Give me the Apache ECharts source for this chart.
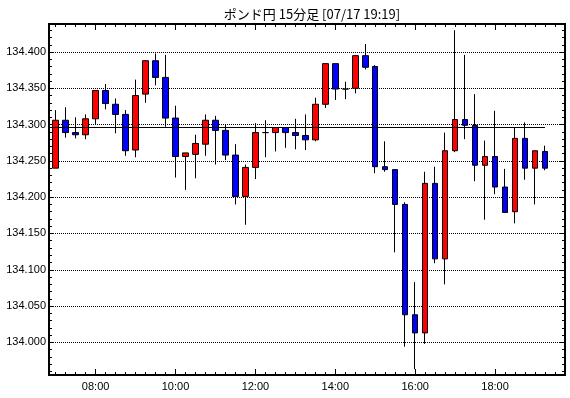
<!DOCTYPE html>
<html>
<head>
<meta charset="utf-8">
<script src="https://cdn.jsdelivr.net/npm/echarts@6/dist/echarts.min.js"></script>
<style>
    html, body { margin: 0; padding: 0; background: #fff; }
    #chart { width: 570px; height: 398px; }
</style>
</head>
<body>
<div id="chart"></div>
<script>
// 15分足 (ポンド円)
const times = ['07:00', '07:15', '07:30', '07:45', '08:00', '08:15', '08:30', '08:45', '09:00', '09:15',
    '09:30', '09:45', '10:00', '10:15', '10:30', '10:45', '11:00', '11:15', '11:30', '11:45',
    '12:00', '12:15', '12:30', '12:45', '13:00', '13:15', '13:30', '13:45', '14:00', '14:15',
    '14:30', '14:45', '15:00', '15:15', '15:30', '15:45', '16:00', '16:15', '16:30', '16:45',
    '17:00', '17:15', '17:30', '17:45', '18:00', '18:15', '18:30', '18:45', '19:00', '19:15'];
const opens = [134.240, 134.306, 134.289, 134.286, 134.308, 134.347, 134.328, 134.314, 134.265, 134.342,
    134.388, 134.365, 134.309, 134.256, 134.259, 134.273, 134.306, 134.292, 134.258, 134.201,
    134.241, 134.289, 134.289, 134.296, 134.289, 134.285, 134.279, 134.328, 134.384, 134.349,
    134.350, 134.395, 134.380, 134.242, 134.238, 134.190, 134.038, 134.013, 134.219, 134.115,
    134.264, 134.307, 134.299, 134.244, 134.256, 134.214, 134.180, 134.281, 134.240, 134.263];
const closes = [134.306, 134.289, 134.286, 134.308, 134.347, 134.329, 134.314, 134.264, 134.340, 134.388,
    134.365, 134.309, 134.256, 134.261, 134.274, 134.306, 134.292, 134.258, 134.201, 134.241,
    134.289, 134.289, 134.296, 134.289, 134.285, 134.279, 134.328, 134.384, 134.349, 134.349,
    134.395, 134.379, 134.242, 134.238, 134.190, 134.038, 134.013, 134.219, 134.115, 134.264,
    134.307, 134.299, 134.244, 134.256, 134.214, 134.179, 134.281, 134.240, 134.264, 134.240];
const lows = [134.240, 134.282, 134.281, 134.280, 134.300, 134.321, 134.288, 134.257, 134.255, 134.330,
    134.354, 134.297, 134.227, 134.210, 134.226, 134.257, 134.245, 134.251, 134.190, 134.162,
    134.225, 134.255, 134.263, 134.268, 134.266, 134.265, 134.277, 134.323, 134.334, 134.335,
    134.343, 134.376, 134.233, 134.235, 134.124, 133.994, 133.963, 133.998, 134.109, 134.080,
    134.262, 134.280, 134.222, 134.169, 134.204, 134.179, 134.164, 134.224, 134.190, 134.237];
const highs = [134.320, 134.324, 134.310, 134.314, 134.347, 134.356, 134.336, 134.320, 134.362, 134.389,
    134.398, 134.396, 134.326, 134.261, 134.286, 134.314, 134.312, 134.300, 134.273, 134.245,
    134.302, 134.306, 134.296, 134.296, 134.308, 134.314, 134.337, 134.384, 134.384, 134.359,
    134.396, 134.411, 134.382, 134.277, 134.238, 134.193, 134.083, 134.235, 134.242, 134.289,
    134.430, 134.396, 134.342, 134.278, 134.319, 134.239, 134.296, 134.303, 134.264, 134.271];

// 軸
const xLabels = ['08:00', '10:00', '12:00', '14:00', '16:00', '18:00'];
const yLabels = ['134.000', '134.050', '134.100', '134.150', '134.200', '134.250', '134.300', '134.350', '134.400'];
const xStart = '06:50', xEnd = '19:45';
const yMin = 133.955, yMax = 134.4386;

// 基準線
const refLevel = 134.2963;
const refEnd = '19:15';

function toMin(t) {
    const p = t.split(':');
    return Number(p[0]) * 60 + Number(p[1]);
}

function fmtTime(v) {
    const h = Math.floor(v / 60), m = v % 60;
    return (h < 10 ? '0' : '') + h + ':' + (m < 10 ? '0' : '') + m;
}

const xMin = toMin(xStart), xMax = toMin(xEnd);
const xMajor = xLabels.map(toMin);
let xMinor = [];
for (let v = Math.ceil(xMin / 15) * 15; v <= xMax; v += 15) xMinor.push(v);
const yMajor = yLabels.map(Number);
let yMinor = [];
for (let k = Math.ceil(yMin * 100); k <= Math.floor(yMax * 100); k++) yMinor.push(k / 100);

const candles = times.map((t, i) => [toMin(t), opens[i], closes[i], lows[i], highs[i]]);

const labelFont = {color: '#000', fontSize: 11, fontFamily: 'Liberation Sans'};
const frameLine = {show: true, lineStyle: {color: '#000', width: 2}};

function xAxisOf(position, ticks, len, withLabel) {
    return {
        type: 'value', position: position, min: xMin, max: xMax,
        axisLine: frameLine,
        axisTick: {show: true, inside: true, length: len, customValues: ticks, lineStyle: {color: '#000', width: 1}},
        axisLabel: withLabel ? Object.assign({
            show: true, margin: 6, customValues: xMajor, formatter: v => fmtTime(v)
        }, labelFont) : {show: false},
        splitLine: {show: false}
    };
}

function yAxisOf(position, ticks, len, withLabel, withGrid) {
    return {
        type: 'value', position: position, min: yMin, max: yMax,
        axisLine: frameLine,
        axisTick: {show: true, inside: true, length: len, customValues: ticks, lineStyle: {color: '#000', width: 1}},
        axisLabel: withLabel ? Object.assign({
            show: true, margin: 3, customValues: yMajor, formatter: v => v.toFixed(3)
        }, labelFont) : {show: false},
        splitLine: withGrid ? {show: true, lineStyle: {color: '#000', width: 1, type: [1, 1]}} : {show: false}
    };
}

let chart = echarts.init(document.getElementById('chart'), null, {renderer: 'canvas'});
let option = {
    animation: false,
    backgroundColor: '#fff',
    title: {
        text: 'ポンド円 15分足 [07/17 19:19]',
        left: 307,
        top: 3,
        textAlign: 'center',
        textStyle: {color: '#000', fontSize: 13, fontWeight: 'normal', fontFamily: 'Noto Sans CJK JP'}
    },
    grid: {left: 49, right: 5, top: 24, bottom: 23, containLabel: false},
    xAxis: [
        xAxisOf('bottom', xMinor, 3, true),
        xAxisOf('bottom', xMajor, 6, false),
        xAxisOf('top', xMinor, 3, false),
        xAxisOf('top', xMajor, 6, false)
    ],
    yAxis: [
        yAxisOf('left', yMinor, 3, true, false),
        yAxisOf('left', yMajor, 5, false, true),
        yAxisOf('right', yMinor, 3, false, false),
        yAxisOf('right', yMajor, 5, false, false)
    ],
    series: [
        {
            type: 'candlestick',
            xAxisIndex: 0,
            yAxisIndex: 0,
            data: candles,
            encode: {x: 0, y: [1, 2, 3, 4]},
            barWidth: 6,
            itemStyle: {
                color: '#ff0000',
                color0: '#0000ff',
                borderColor: '#000',
                borderColor0: '#000',
                borderColorDoji: '#000',
                borderWidth: 1
            },
            markLine: {
                silent: true,
                symbol: 'none',
                label: {show: false},
                lineStyle: {color: '#000', width: 1, type: 'solid'},
                data: [[{coord: [xMin, refLevel]}, {coord: [toMin(refEnd), refLevel]}]]
            }
        }
    ]
};
chart.setOption(option);
</script>
</body>
</html>
